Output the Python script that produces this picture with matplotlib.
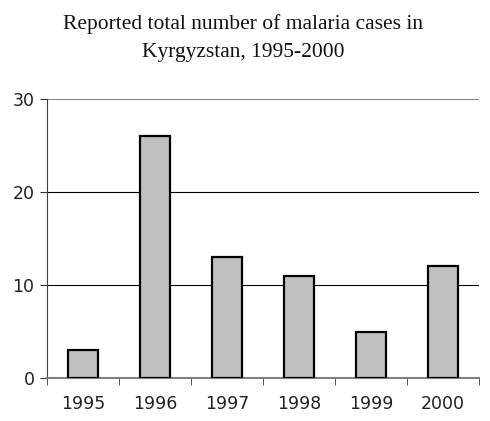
import matplotlib
matplotlib.use("Agg")
import matplotlib.pyplot as plt
import numpy as np

years = ["1995", "1996", "1997", "1998", "1999", "2000"]
cases = [3, 26, 13, 11, 5, 12]
yticks = [0, 10, 20, 30]
title_lines = ["Reported total number of malaria cases in", "Kyrgyzstan, 1995-2000"]

fig = plt.figure(figsize=(4.9, 4.21), dpi=100)
ax = fig.add_axes([47/490, 1 - 378/421, (479-47)/490, (378-99)/421])

x = np.arange(len(years))
ax.bar(x, cases, width=0.43, color="#C0C0C0", edgecolor="black", linewidth=1.6, zorder=3)
ax.set_xlim(-0.5, len(years) - 0.5)
ax.set_ylim(0, 30)
ax.set_yticks(yticks)
ax.set_yticklabels([str(v) for v in yticks], fontsize=12.5, color="#222222")
for v in yticks[1:3]:
    ax.axhline(v, color="black", linewidth=0.8, zorder=1)
ax.axhline(30, color="#808080", linewidth=1.5, zorder=1)

ax.set_xticks(x)
ax.set_xticklabels(years, fontsize=12.5, color="#222222")
ax.set_xticks(np.arange(-0.5, len(years) + 0.5, 1), minor=True)
ax.tick_params(axis="x", which="major", length=0, pad=12)
ax.tick_params(axis="x", which="minor", length=5, direction="out", color="#333333")
ax.tick_params(axis="y", length=5, direction="out", color="#333333", pad=4)

for s in ["top", "right"]:
    ax.spines[s].set_visible(False)
ax.spines["left"].set_color("#404040")
ax.spines["bottom"].set_color("#808080")
ax.spines["bottom"].set_linewidth(1.5)

for yy, line in zip([24, 53], title_lines):
    fig.text(243/490, 1 - yy/421, line, ha="center", va="center", fontsize=15.5,
             family="Liberation Serif", color="#111111")

fig.savefig("out.png", dpi=100)
